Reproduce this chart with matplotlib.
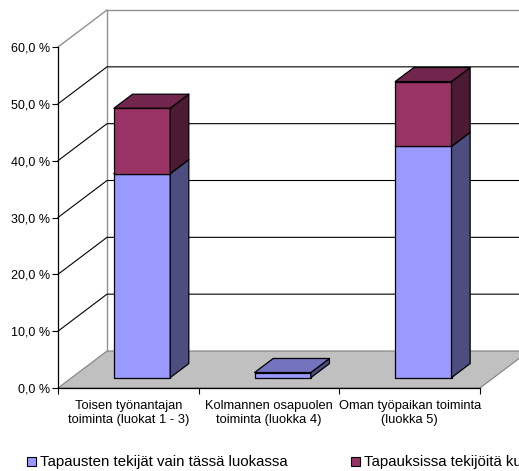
import matplotlib
matplotlib.use("Agg")
import matplotlib.pyplot as plt
from matplotlib.patches import Polygon, Rectangle
import numpy as np

plt.rcParams['font.family'] = ['Liberation Sans', 'DejaVu Sans']

categories = ["Toisen työnantajan\ntoiminta (luokat 1 - 3)",
              "Kolmannen osapuolen\ntoiminta (luokka 4)",
              "Oman työpaikan toiminta\n(luokka 5)"]
only_here = [35.9, 0.9, 40.7]
also_other = [11.5, 0.0, 11.4]
series_names = ["Tapausten tekijät vain tässä luokassa",
                "Tapauksissa tekijöitä kuului myös muihin luokkiin"]
front_colors = ["#9999FF", "#993366"]
yticks = [0, 10, 20, 30, 40, 50, 60]


def shade(c, k):
    r, g, b = matplotlib.colors.to_rgb(c)
    return (r * k, g * k, b * k)


W, H = 519, 471
fig = plt.figure(figsize=(W / 100, H / 100), dpi=100)
ax = fig.add_axes([58 / W, 83 / H, 422 / W, 341 / H])
ax.set_xlim(0, 3)
ax.set_ylim(0, 60)

# depth offset of the back wall in data units
px_x = 422 / 3
px_y = 341 / 60
DX = 49 / px_x
DY = 37 / px_y

# floor
ax.add_patch(Polygon([(0, 0), (3, 0), (3 + DX, DY), (DX, DY)], closed=True,
                     facecolor="#C0C0C0", edgecolor="#808080", lw=0.8,
                     clip_on=False, zorder=1))
# back wall border
ax.plot([DX, DX, 3 + DX], [DY, 60 + DY, 60 + DY], color="#909090", lw=1.0,
        clip_on=False, zorder=1)
ax.plot([0, DX], [60, 60 + DY], color="#909090", lw=1.0, clip_on=False, zorder=1)
for v in yticks[1:-1]:
    ax.plot([0, DX, 3 + DX], [v, v + DY, v + DY], color="black", lw=0.8,
            clip_on=False, zorder=1)

# bars
f0, f1 = 0.28, 0.66
bw = 0.4
for i in range(len(categories)):
    base = 0.0
    for vals, col in ((only_here, front_colors[0]), (also_other, front_colors[1])):
        v = vals[i]
        if v <= 0:
            continue
        x0 = i + 0.5 - bw / 2 + f0 * DX
        x1 = x0 + bw
        y0 = base + f0 * DY
        y1 = y0 + v
        ddx = (f1 - f0) * DX
        ddy = (f1 - f0) * DY
        kw = dict(edgecolor="black", lw=0.9, clip_on=False, zorder=3,
                  joinstyle="round")
        ax.add_patch(Polygon([(x0, y0), (x1, y0), (x1, y1), (x0, y1)], facecolor=col, **kw))
        ax.add_patch(Polygon([(x1, y0), (x1 + ddx, y0 + ddy), (x1 + ddx, y1 + ddy), (x1, y1)],
                             facecolor=shade(col, 0.5), **kw))
        ax.add_patch(Polygon([(x0, y1), (x1, y1), (x1 + ddx, y1 + ddy), (x0 + ddx, y1 + ddy)],
                             facecolor=shade(col, 0.75), **kw))
        base += v

for s in ("top", "right"):
    ax.spines[s].set_visible(False)
ax.spines["left"].set_linewidth(0.9)
ax.spines["bottom"].set_linewidth(0.9)
ax.spines["left"].set_zorder(2)
ax.spines["bottom"].set_zorder(2)
ax.set_facecolor("none")

ax.set_yticks(yticks)
ax.set_yticklabels([f"{v:.1f} %".replace(".", ",") for v in yticks], fontsize=9)
ax.tick_params(axis="y", length=4, width=0.8, pad=2)
ax.set_xticks([0, 1, 2, 3])
ax.set_xticklabels([])
ax.tick_params(axis="x", which="major", length=4, width=0.8)
ax.set_xticks([0.5, 1.5, 2.5], minor=True)
ax.set_xticklabels(categories, minor=True, fontsize=9.3, linespacing=1.2)
ax.tick_params(axis="x", which="minor", length=0, pad=9)

# legend
for x, name, col in ((27, series_names[0], front_colors[0]), (351, series_names[1], front_colors[1])):
    fig.patches.append(Rectangle((x / W, (H - 466) / H), 9 / W, 9 / H,
                                 transform=fig.transFigure, facecolor=col,
                                 edgecolor="black", lw=0.8))
    fig.text((x + 13) / W, (H - 462) / H, name, fontsize=10.8, va="center", ha="left")

fig.savefig("out.png", dpi=100)
